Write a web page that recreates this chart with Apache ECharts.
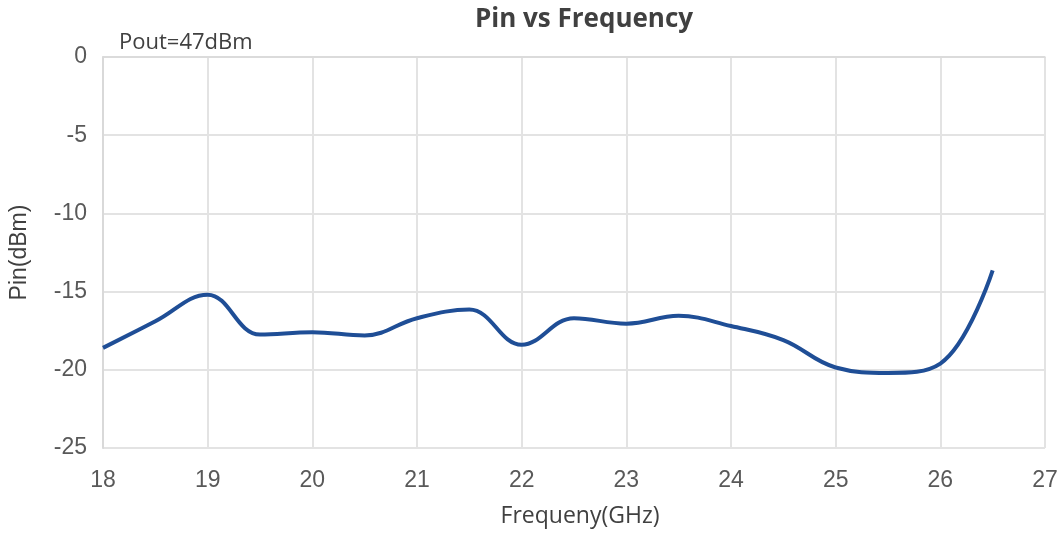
<!DOCTYPE html>
<html>
<head>
<meta charset="utf-8">
<script src="https://cdn.jsdelivr.net/npm/echarts@6/dist/echarts.min.js"></script>
<style>html,body{margin:0;padding:0;background:#fff}#c{width:1063px;height:533px}</style>
</head>
<body>
<div id="c"></div>
<script>
const freq = [18, 18.5, 19, 19.5, 20, 20.5, 21, 21.5, 22, 22.5, 23, 23.5, 24, 24.5, 25, 25.5, 26, 26.5];
const pin = [-18.6, -16.9, -15.2, -17.75, -17.6, -17.8, -16.7, -16.15, -18.4, -16.7, -17.05, -16.55, -17.2, -18.1, -19.85, -20.2, -19.6, -13.65];
const titleText = 'Pin vs Frequency';
const noteText = 'Pout=47dBm';
const xName = 'Frequeny(GHz)';
const yName = 'Pin(dBm)';

const chart = echarts.init(document.getElementById('c'));
chart.setOption({
  animation: false,
  title: [
    {text: titleText, left: 579, top: 2, textAlign: 'center',
     textStyle: {fontFamily: 'Open Sans', fontWeight: 'bold', fontSize: 26, color: '#404040'}},
    {text: noteText, left: 114, top: 27,
     textStyle: {fontFamily: 'Open Sans', fontWeight: 'normal', fontSize: 22, color: '#404040'}}
  ],
  grid: {left: 103, right: 18, top: 57, bottom: 83},
  xAxis: {
    type: 'value', min: 18, max: 27, interval: 1,
    name: xName, nameLocation: 'middle', nameGap: 57,
    nameTextStyle: {fontFamily: 'Open Sans', fontSize: 23, color: '#404040', padding: [0, 0, 0, 12]},
    axisLine: {show: true, lineStyle: {color: '#d9d9d9', width: 1.5}},
    axisTick: {show: false},
    axisLabel: {fontFamily: 'Liberation Sans', fontSize: 23, color: '#595959', margin: 21},
    splitLine: {show: true, lineStyle: {color: '#e3e3e3', width: 2}}
  },
  yAxis: {
    type: 'value', min: -25, max: 0, interval: 5,
    name: yName, nameLocation: 'middle', nameGap: 72, nameRotate: 90,
    nameTextStyle: {fontFamily: 'Liberation Sans', fontSize: 23, color: '#404040'},
    axisLine: {show: true, lineStyle: {color: '#d9d9d9', width: 2}},
    axisTick: {show: false},
    axisLabel: {fontFamily: 'Liberation Sans', fontSize: 23, color: '#595959', margin: 16},
    splitLine: {show: true, lineStyle: {color: '#e3e3e3', width: 2}}
  },
  series: [{
    type: 'line',
    data: freq.map((f, i) => [f, pin[i]]),
    smooth: 0.4,
    showSymbol: false,
    lineStyle: {color: '#1f4e96', width: 4}
  }]
});
</script>
</body>
</html>
